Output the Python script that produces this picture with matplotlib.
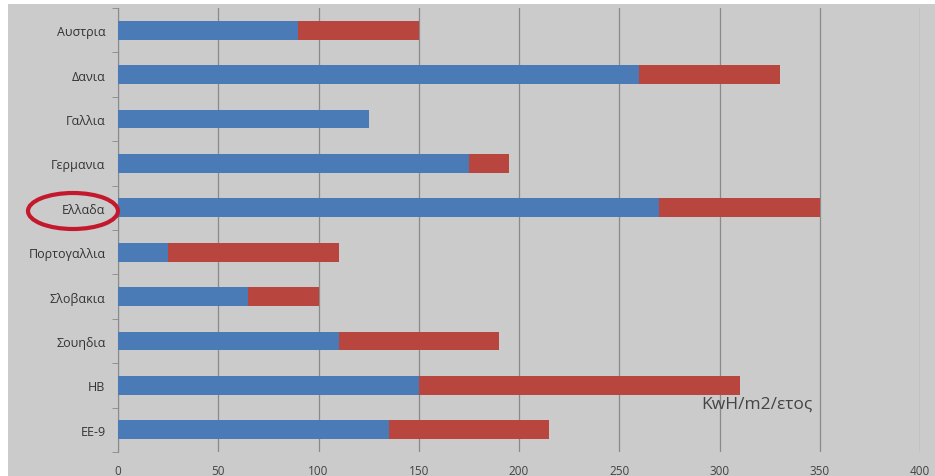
import matplotlib
matplotlib.use("Agg")
import matplotlib.pyplot as plt
from matplotlib.patches import Ellipse, Rectangle
import numpy as np

categories = ["Αυστρια", "Δανια", "Γαλλια", "Γερμανια", "Ελλαδα",
              "Πορτογαλλια", "Σλοβακια", "Σουηδια", "ΗΒ", "ΕΕ-9"]
blue_vals = [90, 260, 125, 175, 270, 25, 65, 110, 150, 135]
red_vals = [60, 70, 0, 20, 80, 85, 35, 80, 160, 80]
x_ticks = [0, 50, 100, 150, 200, 250, 300, 350, 400]
unit_label = "KwH/m2/ετος"

plt.rcParams['font.family'] = ['Open Sans', 'DejaVu Sans']

bg = "#cbcbcb"
fig = plt.figure(figsize=(9.35, 4.77), dpi=100, facecolor=bg)
# white photo border strips
fig.patches.append(Rectangle((0, 0), 8/935, 1, transform=fig.transFigure,
                             facecolor="white", edgecolor="none", zorder=0))
fig.patches.append(Rectangle((0, 1-5/477), 1, 5/477, transform=fig.transFigure,
                             facecolor="white", edgecolor="none", zorder=0))

ax = fig.add_axes([118/935, 1-453/477, (920-118)/935, 444/477])
ax.set_facecolor(bg)

y = np.arange(len(categories))
ax.barh(y, blue_vals, height=0.42, color="#4a7bb7", zorder=3)
ax.barh(y, red_vals, left=blue_vals, height=0.42, color="#b8463e", zorder=3)

ax.set_ylim(len(categories) - 0.5, -0.5)
ax.set_xlim(0, 400)
ax.set_yticks(y)
ax.set_yticklabels(categories, fontsize=9, color="#333333")
ax.set_xticks(x_ticks)
ax.set_xticklabels([str(v) for v in x_ticks], fontsize=8.5, color="#444444")
ax.tick_params(axis='y', length=0, pad=9)
ax.tick_params(axis='x', length=0, pad=9)
ax.set_yticks(np.arange(-0.5, len(categories), 1), minor=True)
ax.tick_params(axis='y', which='minor', length=4, color="#888888")

ax.grid(axis='x', color="#8a8a8a", linewidth=0.9, zorder=1)
for s in ["top", "right", "bottom"]:
    ax.spines[s].set_visible(False)
ax.spines["left"].set_color("#8a8a8a")

ax.text((757-118)/(920-118), (453-405)/444, unit_label, transform=ax.transAxes,
        fontsize=12.5, color="#444444", ha="center", va="center")

fig.patches.append(Ellipse((73/935, 1-212/477), 90/935, 36/477,
                           transform=fig.transFigure, facecolor="none",
                           edgecolor="#c4182c", linewidth=3, zorder=5))

fig.savefig("out.png", dpi=100, facecolor=bg)
